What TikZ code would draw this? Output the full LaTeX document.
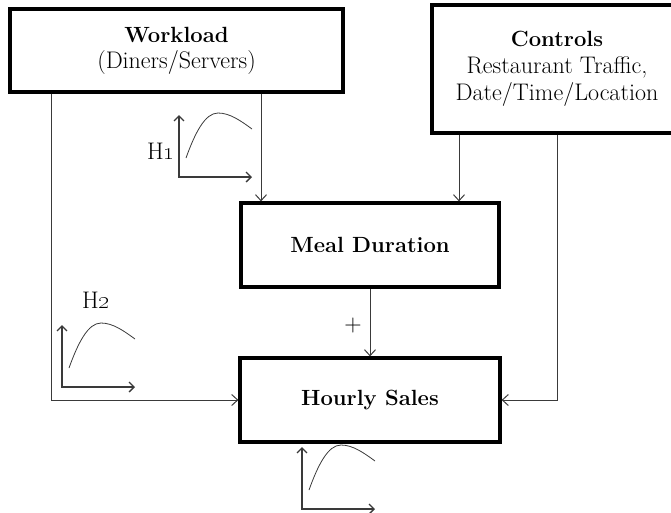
\documentclass[tikz,border=0pt]{standalone}
\usetikzlibrary{arrows.meta}
\definecolor{wire}{HTML}{3A3A3A}
\newcommand{\titlefont}{\fontsize{22}{27}\selectfont\bfseries}
\newcommand{\bodyfont}{\fontsize{24}{27}\selectfont\mdseries}
\tikzset{
  block/.style={draw=black, line width=3.2pt, fill=white, align=center,
    inner sep=0pt, font=\bodyfont},
  conn/.style={draw=wire, line width=1pt,
    -{Straight Barb[length=6pt,width=11pt,line width=1pt]}},
  axisline/.style={draw=wire, line width=1.3pt,
    {Straight Barb[length=5pt,width=10pt,line width=1.3pt]}-{Straight Barb[length=5pt,width=10pt,line width=1.3pt]}},
  curveline/.style={draw=wire, line width=0.8pt},
  lbl/.style={font=\bodyfont, inner sep=0pt},
  curvegraph/.pic={
    \draw[axisline] (0,-62) -- (0,0) -- (73,0);
    \draw[curveline] (7,-19) .. controls (16,-44) and (26,-64) .. (39,-64)
      .. controls (51,-64) and (62,-56) .. (73,-48);
  }
}
\begin{document}
\begin{tikzpicture}[x=1pt,y=-1pt]
  \useasboundingbox (0,0) rectangle (671,512);
  \clip (0,0) rectangle (671,512);

  % boxes
  \node[block, minimum width=333pt, minimum height=83pt] (work) at (176.5,50.5)
    {{\titlefont Workload}\\[-1pt](Diners/Servers)};
  \node[block, minimum width=250pt, minimum height=128pt] (ctrl) at (557,69)
    {{\titlefont Controls}\\Restaurant Traffic,\\Date/Time/Location};
  \node[block, minimum width=258pt, minimum height=84pt] (meal) at (370,245)
    {\titlefont Meal Duration};
  \node[block, minimum width=260pt, minimum height=84pt] (sales) at (370,400)
    {\titlefont Hourly Sales};

  % vertical positions of the connectors
  \coordinate (xa) at (261,0);
  \coordinate (xb) at (51,0);
  \coordinate (xc) at (459,0);
  \coordinate (xd) at (557,0);

  % connectors
  \draw[conn] (work.south -| xa) -- (meal.north -| xa);
  \draw[conn] (work.south -| xb) |- (sales.west);
  \draw[conn] (ctrl.south -| xc) -- (meal.north -| xc);
  \draw[conn] (ctrl.south -| xd) |- (sales.east);
  \draw[conn] (meal.south) -- (sales.north);
  \node[lbl] (plus) at (353,326) {+};

  % small response curves
  \pic at (179,177) {curvegraph};
  \pic at (62,387) {curvegraph};
  \pic at (302,509) {curvegraph};
  \node[lbl, anchor=base west] (h1) at (147,159) {H\oldstylenums{1}};
  \node[lbl, anchor=base west] (h2) at (82,308) {H\oldstylenums{2}};
\end{tikzpicture}
\end{document}
